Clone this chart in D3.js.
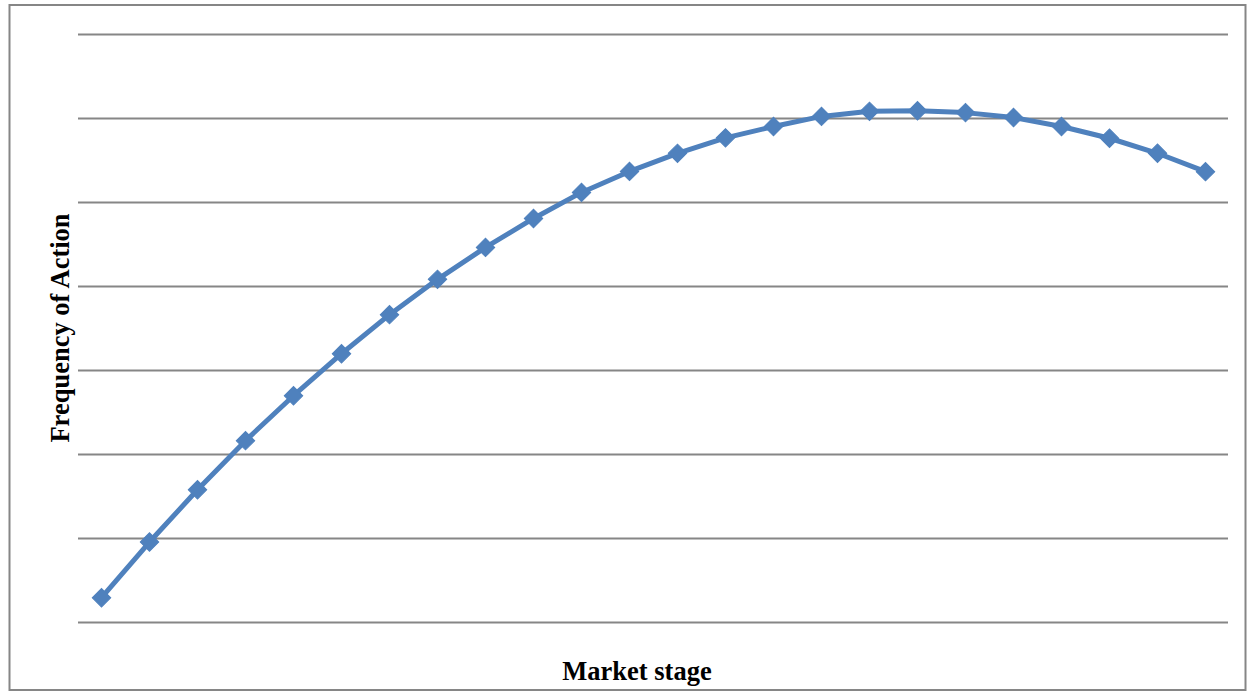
<!DOCTYPE html>
<html>
<head>
<meta charset="utf-8">
<script src="https://cdn.jsdelivr.net/npm/d3@7"></script>
<style>
  html, body { margin: 0; padding: 0; background: #fff; }
  svg { display: block; }
</style>
</head>
<body>
<svg id="chart" width="1247" height="692"></svg>
<script>
// Market stages (unlabelled on the axis) and frequency of action
const stages = d3.range(1, 25);
const frequency = [0.295, 0.958, 1.58, 2.165, 2.70, 3.20, 3.665, 4.085, 4.465, 4.81, 5.12, 5.37,
                   5.585, 5.77, 5.905, 6.025, 6.085, 6.092, 6.07, 6.012, 5.905, 5.765, 5.586, 5.367];
const gridTicks = d3.range(0, 8);

const svg = d3.select("#chart");
const plot = { left: 78, right: 1228, top: 34.5, bottom: 622.5 };

// Outer frame
svg.append("rect")
  .attr("x", 9.5).attr("y", 5)
  .attr("width", 1236).attr("height", 685)
  .attr("fill", "none").attr("stroke", "#868686").attr("stroke-width", 2);

const x = d3.scalePoint().domain(stages).range([101.5, 1205.5]);
const y = d3.scaleLinear().domain([0, 7]).range([plot.bottom, plot.top]);

// Horizontal gridlines
svg.append("g").selectAll("line").data(gridTicks).join("line")
  .attr("x1", plot.left).attr("x2", plot.right)
  .attr("y1", d => y(d)).attr("y2", d => y(d))
  .attr("stroke", "#868686").attr("stroke-width", 2);

// Series line
const line = d3.line().x((d, i) => x(stages[i])).y(d => y(d));
svg.append("path").datum(frequency)
  .attr("d", line)
  .attr("fill", "none").attr("stroke", "#4F81BD")
  .attr("stroke-width", 5).attr("stroke-linejoin", "round");

// Diamond markers (squares turned 45 degrees)
svg.append("g").selectAll("path").data(frequency).join("path")
  .attr("transform", (d, i) => `translate(${x(stages[i])},${y(d)}) rotate(45)`)
  .attr("d", d3.symbol().type(d3.symbolSquare).size(170))
  .attr("fill", "#4F81BD").attr("stroke", "#4F81BD").attr("stroke-width", 1);

// Axis titles
svg.append("text")
  .attr("x", 637).attr("y", 680)
  .attr("text-anchor", "middle")
  .attr("font-family", "'Liberation Serif', 'Times New Roman', serif")
  .attr("font-weight", "bold").attr("font-size", 26.5)
  .attr("fill", "#000")
  .text("Market stage");

svg.append("text")
  .attr("transform", "translate(68.5,328) rotate(-90)")
  .attr("text-anchor", "middle")
  .attr("font-family", "'Liberation Serif', 'Times New Roman', serif")
  .attr("font-weight", "bold").attr("font-size", 26.5)
  .attr("fill", "#000")
  .text("Frequency of Action");
</script>
</body>
</html>
